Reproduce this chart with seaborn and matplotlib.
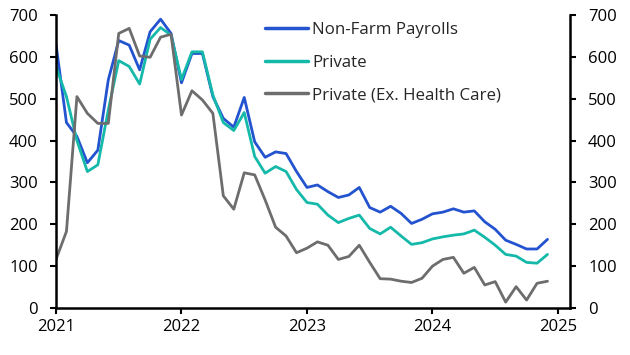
import numpy as np
import pandas as pd
import seaborn as sns
import matplotlib
matplotlib.use("Agg")
import matplotlib.pyplot as plt

# Monthly data, Jan 2021 - Dec 2024 (thousands, 3m avg style)
months = pd.date_range("2021-01-01", "2024-12-01", freq="MS")
nfp = [630, 443, 410, 347, 377, 545, 639, 628, 569, 660, 690, 656,
       538, 608, 608, 505, 453, 432, 503, 397, 360, 373, 369, 326,
       288, 294, 278, 264, 270, 288, 240, 229, 243, 226, 202, 212,
       225, 229, 237, 229, 232, 206, 188, 162, 152, 141, 141, 164]
private = [577, 505, 400, 326, 342, 473, 591, 577, 535, 642, 670, 652,
           546, 612, 612, 509, 443, 424, 467, 362, 322, 338, 326, 283,
           252, 248, 222, 204, 214, 222, 190, 177, 193, 172, 152, 156,
           165, 170, 174, 177, 186, 169, 150, 128, 124, 109, 107, 128]
private_ex_hc = [116, 183, 505, 465, 441, 441, 656, 668, 602, 599, 647, 654,
                 461, 519, 497, 465, 268, 236, 323, 318, 258, 193, 172, 132,
                 143, 158, 150, 116, 123, 150, 109, 70, 69, 64, 61, 71,
                 100, 116, 121, 83, 97, 55, 63, 14, 51, 19, 59, 64]
series_names = ["Non-Farm Payrolls", "Private", "Private (Ex. Health Care)"]
colors = ["#2353cf", "#15b9a9", "#6d6d6d"]
year_ticks = [2021, 2022, 2023, 2024, 2025]
y_ticks = [0, 100, 200, 300, 400, 500, 600, 700]

xdec = months.year + (months.month - 1) / 12.0
df = pd.concat([
    pd.DataFrame({"x": xdec, "value": vals, "series": name})
    for name, vals in zip(series_names, [nfp, private, private_ex_hc])
])

sns.set_theme(style="white")
plt.rcParams["font.family"] = ["Open Sans", "DejaVu Sans"]

fig = plt.figure(figsize=(6.3, 3.55), dpi=100)
ax = fig.add_axes([56/630, 1 - 308/355, (570-56)/630, (308-15)/355])

sns.lineplot(data=df, x="x", y="value", hue="series", hue_order=series_names,
             palette=colors, linewidth=2.0, ax=ax, legend=True)

ax.set_xlim(2021.0, 2025.096)
ax.set_ylim(0, 700)
ax.set_xticks(year_ticks)
ax.set_xticklabels([str(y) for y in year_ticks])
ax.set_yticks(y_ticks)
ax.set_xlabel("")
ax.set_ylabel("")

for s in ["left", "right", "bottom"]:
    ax.spines[s].set_visible(True)
    ax.spines[s].set_color("black")
    ax.spines[s].set_linewidth(1.8)
ax.spines["top"].set_visible(False)

ax.tick_params(axis="y", which="both", direction="out", length=4, width=1.5,
               color="black", left=True, right=True, labelleft=True, labelright=True,
               labelsize=12, pad=9, labelcolor="black")
ax.tick_params(axis="x", direction="out", length=4, width=1.5, color="black",
               bottom=True, labelsize=12, pad=4, labelcolor="black")

leg = ax.legend(loc="upper left", bbox_to_anchor=(265/630, 1 - 22/355),
                bbox_transform=fig.transFigure, frameon=False, fontsize=12.2,
                handlelength=2.55, handletextpad=0.25, labelspacing=0.98,
                borderaxespad=0, borderpad=0)
for line in leg.get_lines():
    line.set_linewidth(2.5)

fig.savefig("out.png", dpi=100)
